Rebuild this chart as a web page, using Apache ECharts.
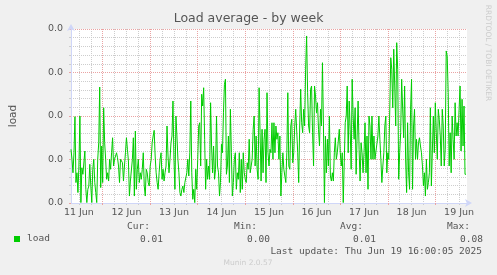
<!DOCTYPE html>
<html>
<head>
<meta charset="utf-8">
<title>Load average - by week</title>
<script src="https://cdn.jsdelivr.net/npm/echarts@6/dist/echarts.min.js"></script>
<style>
  html, body { margin: 0; padding: 0; background: #f0f0f0; }
  #chart { width: 497px; height: 275px; }
</style>
</head>
<body>
<div id="chart"></div>
<script>
// x is hours since 11 Jun 00:00, one sample every 30 minutes
const startHour = 8;
const stepHours = 0.5;
const endHour = 208;

const loadValues = [
  0.0247, 0.0201, 0.0139, 0.0231, 0.0397, 0.0094, 0.0139, 0.0048, 0.0170, 0.0400,
  0.0002, 0.0162, 0.0132, 0.0132, 0.0239, 0.0063, 0.0002, 0.0063, 0.0078, 0.0178,
  0.0078, 0.0002, 0.0155, 0.0201, 0.0094, 0.0048, 0.0002, 0.0201, 0.0277, 0.0533,
  0.0071, 0.0262, 0.0094, 0.0438, 0.0277, 0.0201, 0.0109, 0.0139, 0.0101, 0.0201,
  0.0155, 0.0231, 0.0300, 0.0170, 0.0201, 0.0208, 0.0231, 0.0208, 0.0170, 0.0094,
  0.0201, 0.0208, 0.0185, 0.0101, 0.0170, 0.0231, 0.0300, 0.0247, 0.0193, 0.0032,
  0.0101, 0.0101, 0.0201, 0.0300, 0.0032, 0.0331,
  0.0063, 0.0155, 0.0201, 0.0094, 0.0139, 0.0109, 0.0155, 0.0231, 0.0078, 0.0032,
  0.0155, 0.0139, 0.0094, 0.0078, 0.0170, 0.0201, 0.0277, 0.0308, 0.0334, 0.0216,
  0.0139, 0.0094, 0.0063, 0.0139, 0.0201, 0.0231, 0.0109, 0.0155, 0.0101, 0.0139,
  0.0170, 0.0354, 0.0216, 0.0139, 0.0201, 0.0277, 0.0308, 0.0469, 0.0201, 0.0063,
  0.0400, 0.0308, 0.0201, 0.0139, 0.0048, 0.0032, 0.0063, 0.0078, 0.0048, 0.0094,
  0.0101, 0.0139, 0.0201, 0.0124, 0.0231, 0.0469, 0.0139, 0.0017, 0.0063, 0.0002,
  0.0155, 0.0063, 0.0201, 0.0354,
  0.0369, 0.0170, 0.0500, 0.0446, 0.0530, 0.0293, 0.0063, 0.0201, 0.0109, 0.0170,
  0.0109, 0.0461, 0.0262, 0.0139, 0.0262, 0.0109, 0.0155, 0.0400, 0.0170, 0.0139,
  0.0032, 0.0094, 0.0270, 0.0231, 0.0415, 0.0546, 0.0569, 0.0132, 0.0170, 0.0308,
  0.0094, 0.0431, 0.0231, 0.0032, 0.0094, 0.0201, 0.0231, 0.0063, 0.0139, 0.0109,
  0.0231, 0.0048, 0.0201, 0.0063, 0.0231, 0.0139, 0.0109, 0.0094, 0.0185, 0.0155,
  0.0293, 0.0139, 0.0170, 0.0201, 0.0339, 0.0400, 0.0170, 0.0308, 0.0155, 0.0109,
  0.0530, 0.0323, 0.0101, 0.0339, 0.0139, 0.0293,
  0.0339, 0.0094, 0.0507, 0.0231, 0.0170, 0.0247, 0.0231, 0.0369, 0.0201, 0.0369,
  0.0231, 0.0354, 0.0293, 0.0323, 0.0201, 0.0308, 0.0032, 0.0139, 0.0231, 0.0155,
  0.0124, 0.0094, 0.0231, 0.0507, 0.0170, 0.0155, 0.0354, 0.0385, 0.0185, 0.0231,
  0.0354, 0.0431, 0.0438, 0.0231, 0.0094, 0.0354, 0.0523, 0.0369, 0.0323, 0.0431,
  0.0354, 0.0615, 0.0768, 0.0507, 0.0354, 0.0323, 0.0523, 0.0538, 0.0323, 0.0170,
  0.0538, 0.0492, 0.0415, 0.0461, 0.0339, 0.0262, 0.0431, 0.0354, 0.0645, 0.0354,
  0.0002, 0.0308, 0.0139, 0.0293, 0.0170,
  0.0400, 0.0124, 0.0101, 0.0139, 0.0101, 0.0231, 0.0300, 0.0201, 0.0231, 0.0231,
  0.0339, 0.0231, 0.0170, 0.0231, 0.0002, 0.0185, 0.0369, 0.0400, 0.0538, 0.0231,
  0.0469, 0.0339, 0.0155, 0.0569, 0.0400, 0.0293, 0.0438, 0.0132, 0.0308, 0.0469,
  0.0247, 0.0101, 0.0277, 0.0231, 0.0139, 0.0231, 0.0369, 0.0139, 0.0308, 0.0063,
  0.0400, 0.0354, 0.0201, 0.0400, 0.0201, 0.0308, 0.0201, 0.0201, 0.0201, 0.0308,
  0.0400, 0.0293, 0.0201, 0.0094, 0.0170, 0.0231, 0.0354, 0.0400, 0.0139, 0.0231,
  0.0201, 0.0431, 0.0668, 0.0615, 0.0438, 0.0707,
  0.0538, 0.0354, 0.0737, 0.0615, 0.0109, 0.0231, 0.0323, 0.0569, 0.0576, 0.0300,
  0.0538, 0.0201, 0.0048, 0.0369, 0.0139, 0.0063, 0.0431, 0.0569, 0.0063, 0.0354,
  0.0431, 0.0201, 0.0293, 0.0201, 0.0277, 0.0300, 0.0262, 0.0231, 0.0170, 0.0078,
  0.0139, 0.0032, 0.0201, 0.0063, 0.0094, 0.0139, 0.0438, 0.0078, 0.0071, 0.0400,
  0.0231, 0.0461, 0.0323, 0.0201, 0.0431, 0.0385, 0.0308, 0.0170, 0.0431, 0.0354,
  0.0170, 0.0247, 0.0699, 0.0676, 0.0507, 0.0170, 0.0323, 0.0139, 0.0400, 0.0293,
  0.0201, 0.0461, 0.0308, 0.0369, 0.0308, 0.0431, 0.0538, 0.0239, 0.0477, 0.0262,
  0.0446, 0.0132, 0.0132
];

const dayLabels = ['11 Jun', '12 Jun', '13 Jun', '14 Jun', '15 Jun', '16 Jun', '17 Jun', '18 Jun', '19 Jun'];
const statLabels = ['Cur:', 'Min:', 'Avg:', 'Max:'];
const statValues = ['0.01', '0.00', '0.01', '0.08'];
const lastUpdate = 'Last update: Thu Jun 19 16:00:05 2025';

const textColor = '#555555';
const majorGrid = '#eaa3a3';
const minorGrid = '#cdcdcd';
const axisColor = '#cfd6f8';
const sans = 'DejaVu Sans';
const mono = 'DejaVu Sans Mono';

// one category per half hour slot, from start to end
const hourSlots = [];
for (let h = startHour; h <= endHour; h += stepHours) hourSlots.push(h);
const hourAt = idx => startHour + idx * stepHours;

const chart = echarts.init(document.getElementById('chart'));

const labelRight = [150, 257, 363, 470];
const valueRight = [163, 270, 376, 483];
const statTexts = [];
statLabels.forEach((t, i) => {
  statTexts.push({
    type: 'text', x: labelRight[i], y: 227,
    style: { text: t, fill: textColor, font: '9.5px "' + mono + '"', align: 'right', verticalAlign: 'middle' }
  });
  statTexts.push({
    type: 'text', x: valueRight[i], y: 239.5,
    style: { text: statValues[i], fill: textColor, font: '9.5px "' + mono + '"', align: 'right', verticalAlign: 'middle' }
  });
});

chart.setOption({
  animation: false,
  backgroundColor: '#f0f0f0',
  title: {
    text: 'Load average - by week',
    left: 'center',
    top: 12,
    padding: 0,
    textStyle: { fontFamily: sans, fontSize: 12.5, fontWeight: 'normal', color: textColor }
  },
  legend: {
    data: ['load'],
    left: 14,
    top: 234,
    padding: 0,
    icon: 'rect',
    itemWidth: 6,
    itemHeight: 6,
    textStyle: { fontFamily: mono, fontSize: 9.5, color: textColor, padding: [0, 0, 0, 2] }
  },
  grid: {
    left: 67, right: 30, top: 29, bottom: 72,
    show: true, backgroundColor: '#ffffff', borderWidth: 0
  },
  xAxis: [
    {
      // midnight grid + day labels at noon
      type: 'category', data: hourSlots, boundaryGap: false, position: 'bottom', z: 2,
      axisLine: { show: true, lineStyle: { color: axisColor, width: 1 }, symbol: ['none', 'arrow'], symbolSize: [6, 7], symbolOffset: [0, 5] },
      axisTick: { show: true, length: 2, interval: idx => hourAt(idx) % 24 === 0, lineStyle: { color: majorGrid } },
      axisLabel: {
        show: true, margin: 5, fontFamily: sans, fontSize: 9.5, color: textColor,
        interval: idx => hourAt(idx) % 24 === 12,
        formatter: (v, idx) => dayLabels[(hourAt(idx) - 12) / 24] || ''
      },
      splitLine: { show: true, interval: idx => hourAt(idx) % 24 === 0, lineStyle: { color: majorGrid, type: [1, 1] } }
    },
    {
      // 6 hour grid
      type: 'category', data: hourSlots, boundaryGap: false, position: 'bottom', z: 1,
      axisLine: { show: false },
      axisTick: { show: true, length: 2, interval: idx => hourAt(idx) % 6 === 0 && hourAt(idx) % 24 !== 0, lineStyle: { color: minorGrid } },
      axisLabel: { show: false },
      splitLine: { show: true, interval: idx => hourAt(idx) % 6 === 0 && hourAt(idx) % 24 !== 0, lineStyle: { color: minorGrid, type: [1, 1] } }
    }
  ],
  yAxis: {
    type: 'value', min: 0, max: 0.08, interval: 0.02, z: 2,
    name: 'load', nameLocation: 'middle', nameRotate: 90, nameGap: 52,
    nameTextStyle: { fontFamily: sans, fontSize: 10.5, color: textColor },
    axisLine: { show: true, lineStyle: { color: axisColor, width: 1 }, symbol: ['none', 'arrow'], symbolSize: [6, 7], symbolOffset: [0, 5] },
    axisTick: { show: true, length: 2, lineStyle: { color: majorGrid } },
    minorTick: { show: true, splitNumber: 5, length: 2, lineStyle: { color: minorGrid } },
    axisLabel: {
      margin: 8, fontFamily: sans, fontSize: 9.5, color: textColor,
      // rrdtool truncates to one decimal
      formatter: v => (Math.floor(v * 10 + 1e-9) / 10).toFixed(1)
    },
    splitLine: { show: true, showMinLine: false, lineStyle: { color: majorGrid, type: [1, 1] } },
    minorSplitLine: { show: true, lineStyle: { color: minorGrid, type: [1, 1] } }
  },
  series: [{
    name: 'load',
    type: 'line',
    xAxisIndex: 0,
    data: loadValues,
    showSymbol: false,
    color: '#00cc00',
    lineStyle: { color: '#00cc00', width: 1 },
    z: 5
  }],
  graphic: {
    elements: [
      {
        type: 'text', x: 488, y: 53, rotation: -Math.PI / 2,
        style: { text: 'RRDTOOL / TOBI OETIKER', fill: '#cccccc', font: '7.5px "' + sans + '"', align: 'center', verticalAlign: 'middle' }
      },
      {
        type: 'text', x: 482, y: 251.5,
        style: { text: lastUpdate, fill: textColor, font: '9.5px "' + mono + '"', align: 'right', verticalAlign: 'middle' }
      },
      {
        type: 'text', x: 248, y: 263,
        style: { text: 'Munin 2.0.57', fill: '#cccccc', font: '7.5px "' + sans + '"', align: 'center', verticalAlign: 'middle' }
      }
    ].concat(statTexts)
  }
});
</script>
</body>
</html>
